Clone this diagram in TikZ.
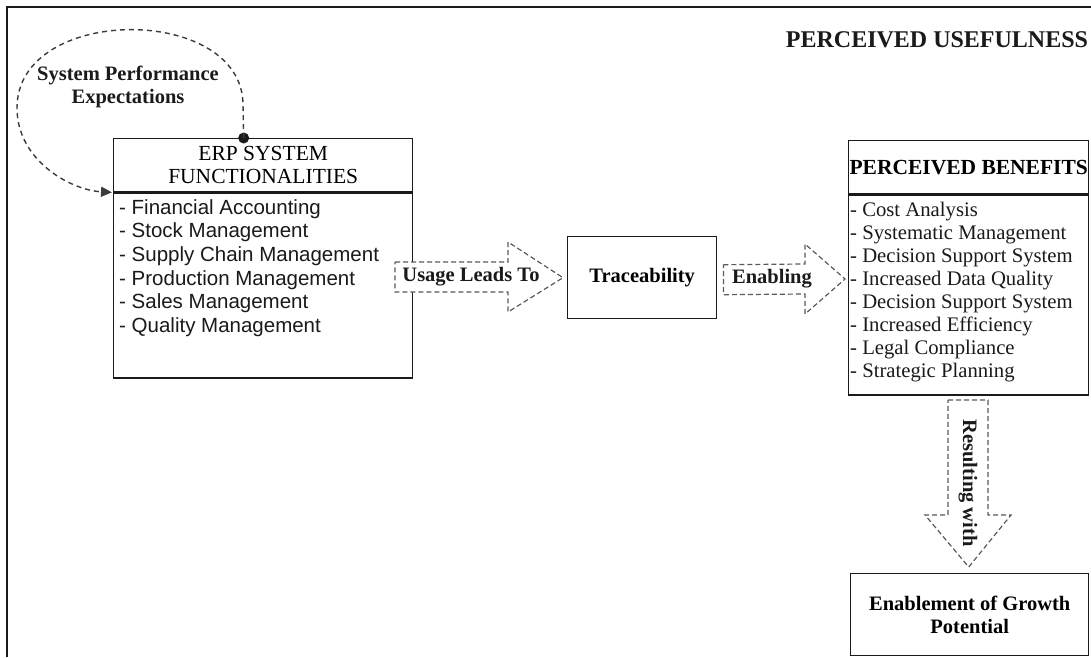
\documentclass[tikz,border=0pt]{standalone}
\usepackage{fontspec}
\setmainfont{Liberation Serif}
\newfontfamily\arialfont{Liberation Sans}
\usetikzlibrary{arrows.meta,calc}

\definecolor{ink}{HTML}{1A1A1A}
\definecolor{flowgray}{HTML}{5A5A5A}

\tikzset{
  box/.style={draw=ink, line width=1.4pt, fill=white, inner sep=0pt, align=center},
  hdrfont/.style={font=\fontsize{21.5}{23}\selectfont},
  boldlabel/.style={font=\fontsize{20.5}{23}\selectfont\bfseries, text=ink},
  blockarrow/.style={draw=flowgray, fill=white, line width=1.2pt, dash pattern=on 5pt off 3pt, line join=miter},
  loopline/.style={draw=ink!85, line width=1.4pt, dash pattern=on 5pt off 4pt},
  dotmark/.style={circle, fill=ink, inner sep=0pt, minimum size=11pt},
}

\begin{document}
\begin{tikzpicture}[x=1pt, y=-1pt]
  \useasboundingbox (0,0) rectangle (1091,657);
  \fill[white] (0,0) rectangle (1091,657);

  % frame edges
  \draw[ink, line width=2pt] (7,657) -- (7,7) -- (1091,7);

  % title
  \node[font=\fontsize{24}{26}\selectfont\bfseries, text=ink] (title) at (937,40) {PERCEIVED USEFULNESS};

  % ERP system block
  \node[box, hdrfont, minimum width=299pt, minimum height=53pt, anchor=north west] (erp) at (113,138)
    {ERP SYSTEM\\FUNCTIONALITIES};
  \node[box, minimum width=299pt, minimum height=185pt, anchor=north west] (erpbody) at (erp.south west) {};
  \node[anchor=west, inner sep=0pt, align=left, text=ink,
        font=\arialfont\fontsize{20.5}{23.6}\selectfont] (erplist) at (119,268)
    {- Financial Accounting\\- Stock Management\\- Supply Chain Management\\- Production Management\\- Sales Management\\- Quality Management};

  % expectations loop onto the ERP block
  \node[dotmark] (dot) at ($(erp.north west)!0.435!(erp.north east)$) {};
  \coordinate (loopin) at ($(erp.south west)+(-1,0)$);
  \draw[loopline, -{Triangle[length=11pt, width=10pt]}]
    (dot.center) -- (243,105) .. controls (243,4) and (17,4) .. (17,108)
    .. controls (17,160) and (70,190) .. (loopin);
  \node[boldlabel, align=center] (spe) at (128,87)
    {System Performance\\Expectations};

  % traceability
  \node[box, minimum width=149pt, minimum height=82pt, anchor=north west,
        font=\fontsize{20.5}{23}\selectfont\bfseries] (trace) at (567,236) {Traceability};

  % perceived benefits block
  \node[box, minimum width=240pt, minimum height=53pt, anchor=north west,
        font=\fontsize{21.5}{23}\selectfont\bfseries] (pb) at (848,140) {PERCEIVED BENEFITS};
  \node[box, minimum width=240pt, minimum height=200pt, anchor=north west] (pbbody) at (pb.south west) {};
  \node[anchor=west, inner sep=0pt, align=left, text=ink,
        font=\fontsize{20.7}{23}\selectfont] (pblist) at (850,292)
    {- Cost Analysis\\- Systematic Management\\- Decision Support System\\- Increased Data Quality\\- Decision Support System\\- Increased Efficiency\\- Legal Compliance\\- Strategic Planning};

  % growth outcome
  \node[box, minimum width=238pt, minimum height=82pt, anchor=north west,
        font=\fontsize{20.5}{23}\selectfont\bfseries] (growth) at (850,573)
    {Enablement of Growth\\Potential};

  % block arrow: ERP -> traceability
  \draw[blockarrow] (395,262) -- (508,262) -- (508,242) -- ($(trace.west)+(-4,0)$)
    -- (508,312) -- (508,292) -- (395,292) -- cycle;
  \node[boldlabel] (usage) at (471,277) {Usage Leads To};

  % block arrow: traceability -> benefits
  \draw[blockarrow] ($(trace.east)+(6,-13)$) -- (805,264) -- (805,244) -- (845,279)
    -- (805,314) -- (805,294) -- ($(trace.east)+(6,17)$) -- cycle;
  \node[boldlabel] (enab) at (772,279) {Enabling};

  % block arrow: benefits -> growth
  \draw[blockarrow] (948,400) -- (988,400) -- (988,515) -- (1011,515) -- ($(growth.north)+(-1,-6)$)
    -- (925,515) -- (948,515) -- cycle;
  \node[boldlabel, rotate=-90] (result) at (968,483) {Resulting with};
\end{tikzpicture}
\end{document}
